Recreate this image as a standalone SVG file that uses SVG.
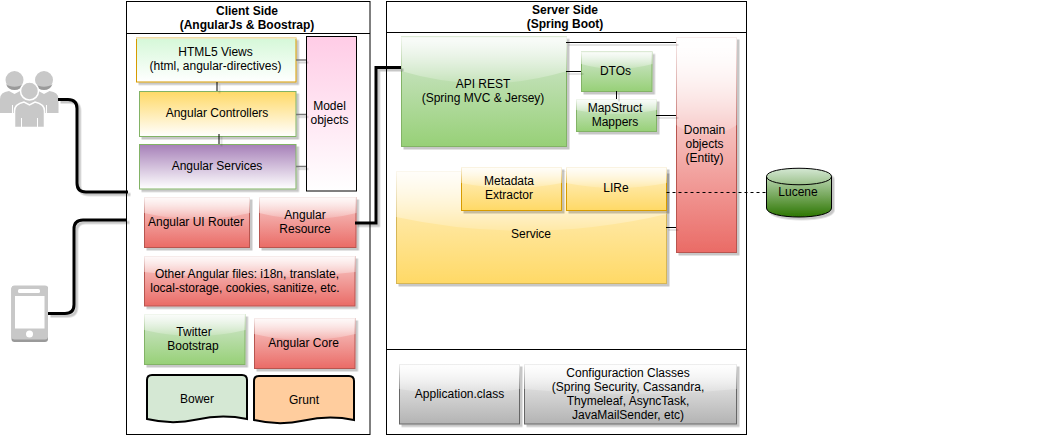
<svg xmlns="http://www.w3.org/2000/svg" width="1047" height="437" viewBox="0 0 1047 437">
<style>
text{font-family:"Liberation Sans",Arial,sans-serif;font-size:12px;fill:#000;text-anchor:middle}
.t{font-weight:bold}
.frame{fill:#fff;stroke:#000;stroke-width:1}
.base{filter:url(#sh)}
.red{fill:url(#gRed);stroke:#b85450}
.green{fill:url(#gGreen);stroke:#82b366}
.yellow{fill:url(#gYellow);stroke:#d6b656}
.ysub{fill:url(#gYellow);stroke:#d79b00}
.grey{fill:url(#gGrey);stroke:#666}
.glass{fill:url(#gGlass);stroke:none}
.doc{stroke:#000;stroke-width:2}
.thin{fill:none;stroke:#000;stroke-width:1}
.thick{fill:none;stroke:#000;stroke-width:3}
.ic{fill:#c8c8c8}
</style>
<defs>
<filter id="sh" filterUnits="userSpaceOnUse" x="0" y="0" width="1047" height="437"><feDropShadow dx="2.5" dy="2.5" stdDeviation="0.4" flood-color="#000" flood-opacity="0.22"/></filter>
<linearGradient id="gRed" x1="0" y1="0" x2="0" y2="1"><stop offset="0" stop-color="#f8cecc"/><stop offset="1" stop-color="#ea6b66"/></linearGradient>
<linearGradient id="gGreen" x1="0" y1="0" x2="0" y2="1"><stop offset="0" stop-color="#d5e8d4"/><stop offset="1" stop-color="#97d077"/></linearGradient>
<linearGradient id="gYellow" x1="0" y1="0" x2="0" y2="1"><stop offset="0" stop-color="#fff2cc"/><stop offset="1" stop-color="#ffd966"/></linearGradient>
<linearGradient id="gGrey" x1="0" y1="0" x2="0" y2="1"><stop offset="0" stop-color="#f5f5f5"/><stop offset="1" stop-color="#b3b3b3"/></linearGradient>
<linearGradient id="gGlass" x1="0" y1="0" x2="0" y2="1"><stop offset="0" stop-color="#fff" stop-opacity="0.9"/><stop offset="1" stop-color="#fff" stop-opacity="0.15"/></linearGradient>
<linearGradient id="gHtml" x1="0" y1="0" x2="0" y2="1"><stop offset="0" stop-color="#d5f8d8"/><stop offset="1" stop-color="#fff"/></linearGradient>
<linearGradient id="gCtrl" x1="0" y1="0" x2="0" y2="1"><stop offset="0" stop-color="#ffd966"/><stop offset="1" stop-color="#fff"/></linearGradient>
<linearGradient id="gSvc" x1="0" y1="0" x2="0" y2="1"><stop offset="0" stop-color="#a680b8"/><stop offset="1" stop-color="#fff"/></linearGradient>
<linearGradient id="gModel" x1="0" y1="0" x2="0" y2="1"><stop offset="0" stop-color="#ffcce6"/><stop offset="1" stop-color="#fff"/></linearGradient>
<linearGradient id="gDomain" x1="0" y1="0" x2="0" y2="1"><stop offset="0" stop-color="#fff"/><stop offset="1" stop-color="#ea6b66"/></linearGradient>
<linearGradient id="gLucene" x1="0" y1="0" x2="0" y2="1"><stop offset="0" stop-color="#d5e8d4"/><stop offset="1" stop-color="#2d7600"/></linearGradient>
</defs>

<g id="client-side">
<rect class="frame" x="126.500" y="1.500" width="243.500" height="433"/>
<path class="thin" d="M126.500 33.500H370"/>
<text class="t" x="247" y="15">Client Side</text>
<text class="t" x="247" y="29">(AngularJs &amp; Boostrap)</text>
</g>
<g id="server-side">
<rect class="frame" x="386.500" y="1.500" width="360" height="433"/>
<path class="thin" d="M386.500 32.500H746.500M386.500 349.500H746.500"/>
<text class="t" x="565" y="14">Server Side</text>
<text class="t" x="565" y="28">(Spring Boot)</text>
</g>

<g id="users">
<circle class="ic" cx="14.500" cy="80" r="9"/><circle class="ic" cx="44" cy="80" r="9"/>
<path d="M6 84A9 9 0 0 0 23 84A10 6 0 0 1 6 84ZM35.500 84A9 9 0 0 0 52.500 84A10 6 0 0 1 35.500 84Z" fill="#9a9a9a"/>
<path class="ic" d="M0 113V99Q0 92 9 91L14.500 94L20 91Q27 92 29 95V113ZM58.500 113V99Q58.500 92 49.500 91L44 94L38.500 91Q32 92 29 95V113Z"/>
<path fill="#fff" d="M12 113h1v-8h-1zM46 113h1v-8h-1z"/>
<circle class="ic" cx="29.500" cy="91" r="9" stroke="#fff" stroke-width="1.500"/>
<path class="ic" stroke="#fff" stroke-width="1.500" d="M14.500 127.500V111Q14.500 104 24 102L29.500 105L35 102Q44.500 104 44.500 111V127.500Z"/>
<path fill="#fff" d="M21 127h1v-9h-1zM37 127h1v-9h-1z"/>
</g>
<g id="phone">
<rect x="11.500" y="286" width="36.500" height="56" rx="3" fill="#9a9a9a"/>
<rect class="ic" x="11.500" y="285.500" width="36.500" height="54" rx="3"/>
<rect x="15" y="296" width="29.500" height="32.500" fill="#fff"/>
<rect x="18" y="289" width="22" height="4" rx="1.500" fill="#fff"/>
<circle cx="29.500" cy="334" r="3.500" fill="#fff"/>
</g>

<g id="html5-views">
<rect class="base" x="136.500" y="38" width="159.500" height="44" fill="url(#gHtml)" stroke="#d79b00"/>
<path d="M136 37.500H296.500V39H136Z" fill="#fff" fill-opacity="0.6"/>
<text x="215.500" y="56">HTML5 Views</text><text x="215.500" y="70">(html, angular-directives)</text>
</g>
<g id="angular-controllers">
<rect class="base" x="139.500" y="91.500" width="156.500" height="45" fill="url(#gCtrl)" stroke="#82b366"/>
<text x="217" y="117">Angular Controllers</text>
</g>
<g id="angular-services">
<rect class="base" x="139.500" y="144.500" width="156.500" height="44.500" fill="url(#gSvc)" stroke="#82b366"/>
<text x="217" y="170">Angular Services</text>
</g>
<g id="model-objects">
<rect x="306.500" y="36.500" width="50" height="154.500" fill="url(#gModel)" stroke="#000"/>
<text x="329.500" y="110">Model</text><text x="329.500" y="124">objects</text>
</g>
<g id="ui-router">
<rect class="base red" x="144.500" y="197.500" width="105" height="50"/>
<path class="glass" d="M144 197H250V213Q197 225 144 213Z"/>
<text x="196" y="226">Angular UI Router</text>
</g>
<g id="angular-resource">
<rect class="base red" x="259.500" y="197.500" width="96.500" height="50"/>
<path class="glass" d="M259 197H356.500V213Q308 225 259 213Z"/>
<text x="305" y="219">Angular</text><text x="305" y="233">Resource</text>
</g>
<g id="other-angular">
<rect class="base red" x="144.500" y="256.500" width="210.500" height="49.500"/>
<path class="glass" d="M144 256H355.500V272Q250 284 144 272Z"/>
<text x="247" y="278">Other Angular files: i18n, translate,</text><text x="245" y="292">local-storage, cookies, sanitize, etc.</text>
</g>
<g id="twitter-bootstrap">
<rect class="base green" x="144.500" y="314.500" width="100.500" height="50"/>
<path class="glass" d="M144 314H245.500V330Q195 342 144 330Z"/>
<text x="194" y="336">Twitter</text><text x="193" y="350">Bootstrap</text>
</g>
<g id="angular-core">
<rect class="base red" x="254.500" y="318.500" width="100.500" height="50"/>
<path class="glass" d="M254 318H355.500V334Q305 346 254 334Z"/>
<text x="303.500" y="347">Angular Core</text>
</g>
<g id="bower">
<path class="doc" fill="#d5e8d4" d="M147 419V380Q147 375 152 375H242Q247 375 247 380V419Q222 414 197 419.500T147 419Z"/>
<text x="197" y="403">Bower</text>
</g>
<g id="grunt">
<path class="doc" fill="#ffcd9e" d="M254 420V381Q254 376 259 376H349Q354 376 354 381V420Q329 415 304 420.500T254 420Z"/>
<text x="304" y="404">Grunt</text>
</g>

<g id="api-rest">
<rect class="base green" x="401.500" y="37" width="165" height="109.500"/>
<path class="glass" d="M401 36.500H567V71Q484 96 401 71Z"/>
<text x="483" y="88">API REST</text><text x="483" y="102">(Spring MVC &amp; Jersey)</text>
</g>
<g id="dtos">
<rect class="base green" x="581.500" y="52" width="70.500" height="39.500"/>
<path class="glass" d="M581 51.500H652.500V64Q616 74 581 64Z"/>
<text x="615.500" y="75">DTOs</text>
</g>
<g id="mapstruct">
<rect class="base green" x="576.500" y="99.500" width="80" height="32"/>
<path class="glass" d="M576 99H657V110Q616 118 576 110Z"/>
<text x="615" y="112">MapStruct</text><text x="615" y="126">Mappers</text>
</g>
<g id="domain-objects">
<rect class="base" x="676.500" y="37.500" width="60" height="215" fill="url(#gDomain)" stroke="#b85450"/>
<path class="glass" d="M676 37H737V125Q706 145 676 125Z"/>
<text x="704.500" y="134">Domain</text><text x="704.500" y="148">objects</text><text x="704.500" y="162">(Entity)</text>
</g>
<g id="service">
<rect class="base yellow" x="396.500" y="171.500" width="270" height="112"/>
<path class="glass" d="M396 171H667V214Q531 246 396 217Z"/>
<text x="531" y="238">Service</text>
</g>
<g id="metadata-extractor">
<rect class="base ysub" x="461.500" y="167.500" width="100" height="43"/>
<path class="glass" d="M461 167H562V183Q511 193 461 183Z"/>
<text x="509" y="185">Metadata</text><text x="509" y="199">Extractor</text>
</g>
<g id="lire">
<rect class="base ysub" x="566.500" y="167.500" width="100" height="43"/>
<path class="glass" d="M566 167H667V183Q616 193 566 183Z"/>
<text x="616" y="192">LIRe</text>
</g>
<g id="lucene">
<path class="base" d="M766.500 176.500C766.500 165.500 831.500 165.500 831.500 176.500V208C831.500 220 766.500 220 766.500 208Z" fill="url(#gLucene)" stroke="#000"/>
<path d="M766.500 176.500C766.500 187.500 831.500 187.500 831.500 176.500" fill="none" stroke="#000"/>
<text x="798" y="196">Lucene</text>
</g>
<g id="application-class">
<rect class="base grey" x="399.500" y="364.500" width="120" height="59.500"/>
<path class="glass" d="M399 364H520V389Q460 399 399 389Z"/>
<text x="459.500" y="398">Application.class</text>
</g>
<g id="configuration-classes">
<rect class="base grey" x="524.500" y="364.500" width="212" height="59.500"/>
<path class="glass" d="M524 364H737V389Q630 399 524 389Z"/>
<text x="628" y="377">Configuraction Classes</text><text x="628" y="391">(Spring Security, Cassandra,</text><text x="628" y="405">Thymeleaf, AsyncTask,</text><text x="628" y="419">JavaMailSender, etc)</text>
</g>

<g id="connectors">
<g filter="url(#sh)">
<path class="thick" d="M58 99.500H68Q77 99.500 77 108.500V183Q77 192 86 192H128"/>
<path class="thick" d="M48 313.500H65Q74 313.500 74 304.500V229Q74 220 83 220H127"/>
<path class="thick" d="M355 223H376V67.500H401"/>
<path d="M296 60H306M296 114.500H306M296 166.500H306" fill="none" stroke="#777" stroke-width="1.500"/>
<path class="thin" d="M217 82V91M219 134V144M566 42.500H676M566 71.500H581M616.500 91V99M656 115.500H676M666 227.500H676"/>
</g>
<path class="thin" stroke-dasharray="3 3" d="M666.500 192.500H766"/>
</g>
</svg>
